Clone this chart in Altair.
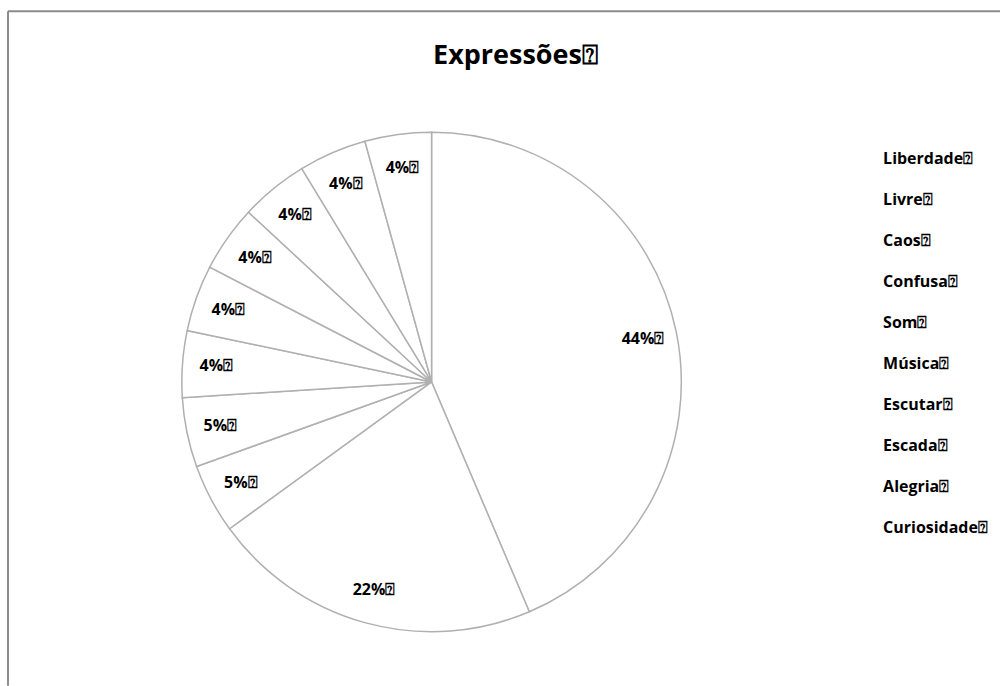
import altair as alt
import pandas as pd

categories = ["Liberdade", "Livre", "Caos", "Confusa", "Som", "Música",
              "Escutar", "Escada", "Alegria", "Curiosidade"]
values = [43.6, 21.4, 4.5, 4.5, 4.3, 4.3, 4.3, 4.4, 4.4, 4.3]
pct_labels = ["44%", "22%", "5%", "5%", "4%", "4%", "4%", "4%", "4%", "4%"]
title_text = "Expressões"
box = "\u2370"

df = pd.DataFrame({
    "cat": [c + box for c in categories],
    "value": values,
    "label": [p + box for p in pct_labels],
    "order": list(range(len(categories))),
})

font = "Open Sans"
cx, cy = 425, 372  # pie centre relative to view origin

color = alt.Color(
    "cat:N",
    sort=[c + box for c in categories],
    scale=alt.Scale(domain=[c + box for c in categories], range=["#ffffff"] * 10),
    legend=alt.Legend(
        title=None, orient="none", legendX=861, legendY=141,
        labelFont=font, labelFontSize=16, labelFontWeight="bold",
        labelColor="#000000", symbolOpacity=0, symbolSize=1,
        symbolStrokeWidth=0, labelOffset=0, rowPadding=25, labelLimit=200,
    ),
)

base = alt.Chart(df).encode(
    theta=alt.Theta("value:Q", stack=True),
    order=alt.Order("order:Q"),
)

pie = base.mark_arc(outerRadius=250, stroke="#b0b0b0", strokeWidth=1.5).encode(
    color=color,
    x=alt.value(cx), y=alt.value(cy),
)

labels = base.mark_text(radius=216, font=font, fontSize=16, fontWeight="bold",
                        color="#000000").encode(
    text="label:N", x=alt.value(cx), y=alt.value(cy),
)

title = alt.Chart(pd.DataFrame({"t": [title_text + box]})).mark_text(
    font=font, fontSize=27, fontWeight="bold", color="#000000", align="center",
    baseline="middle",
).encode(text="t:N", x=alt.value(509), y=alt.value(46))

frame = alt.Chart(pd.DataFrame({"k": [0]}))
left_border = frame.mark_rule(color="#8c8c8c", strokeWidth=2).encode(
    x=alt.value(1), y=alt.value(1), y2=alt.value(676))
top_border = frame.mark_rule(color="#8c8c8c", strokeWidth=2).encode(
    x=alt.value(1), x2=alt.value(994), y=alt.value(1))

chart = alt.layer(pie, labels, title, left_border, top_border).properties(
    width=994, height=676,
    padding={"left": 7, "top": 10, "right": 0, "bottom": 0},
    background="#ffffff",
).configure_view(strokeWidth=0)

chart.save("out.html", embed_options={"renderer": "svg", "actions": False})
